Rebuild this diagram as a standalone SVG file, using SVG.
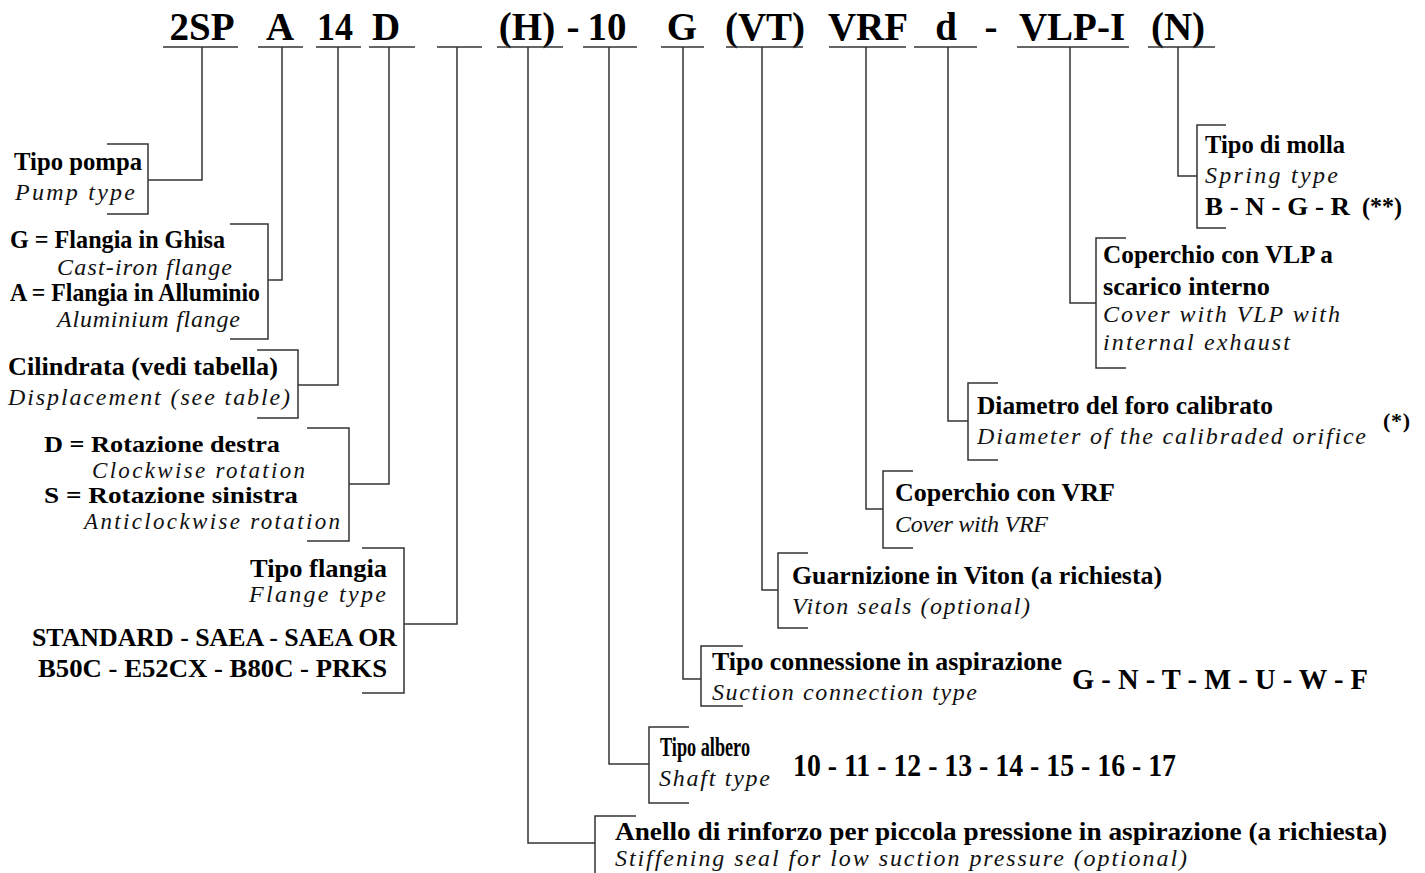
<svg xmlns="http://www.w3.org/2000/svg" width="1425" height="873" viewBox="0 0 1425 873">
<style>
.ln{fill:none;stroke:#333;stroke-width:1.5}
.h{font-family:"Liberation Serif","Times New Roman",serif;font-weight:bold;font-size:39px;text-anchor:middle;fill:#000}
.b{font-family:"Liberation Serif","Times New Roman",serif;font-weight:bold;font-size:26px;fill:#000}
.i{font-family:"Liberation Serif","Times New Roman",serif;font-style:italic;font-size:24px;fill:#111}
.sm{font-size:23px}
</style>
<rect width="1425" height="873" fill="#fff"/>
<g id="code">
<g id="c-2sp"><text class="h" x="202" y="40">2SP</text><path class="ln" d="M163,47H238"/></g>
<g id="c-a"><text class="h" x="280" y="40">A</text><path class="ln" d="M258,47H303"/></g>
<g id="c-14"><text class="h" x="335" y="40" textLength="36" lengthAdjust="spacingAndGlyphs">14</text><path class="ln" d="M316,47H361"/></g>
<g id="c-d"><text class="h" x="386" y="40">D</text><path class="ln" d="M369,47H415"/></g>
<g id="c-blank"><path class="ln" d="M437,47H482"/></g>
<g id="c-h"><text class="h" x="527" y="40">(H)</text><path class="ln" d="M497,47H563"/></g>
<g id="c-dash1"><text class="h" x="573" y="40">-</text></g>
<g id="c-10"><text class="h" x="607" y="40">10</text><path class="ln" d="M583,47H637"/></g>
<g id="c-g"><text class="h" x="682" y="40">G</text><path class="ln" d="M661,47H704"/></g>
<g id="c-vt"><text class="h" x="765" y="40">(VT)</text><path class="ln" d="M726,47H803"/></g>
<g id="c-vrf"><text class="h" x="868" y="40">VRF</text><path class="ln" d="M829,47H906"/></g>
<g id="c-dd"><text class="h" x="946" y="40">d</text><path class="ln" d="M914,47H977"/></g>
<g id="c-dash2"><text class="h" x="991" y="40">-</text></g>
<g id="c-vlp"><text class="h" x="1072" y="40">VLP-I</text><path class="ln" d="M1017,47H1129"/></g>
<g id="c-n"><text class="h" x="1178" y="40">(N)</text><path class="ln" d="M1148,47H1215"/></g>
</g>
<g id="connectors">
<path class="ln" d="M202,47V180H148"/>
<path class="ln" d="M282,47V280H268"/>
<path class="ln" d="M338,47V385H298"/>
<path class="ln" d="M389,47V484H349"/>
<path class="ln" d="M457,47V624H404"/>
<path class="ln" d="M528,47V843H595"/>
<path class="ln" d="M609,47V764H649"/>
<path class="ln" d="M683,47V679H701"/>
<path class="ln" d="M762,47V590H778"/>
<path class="ln" d="M866,47V509H883"/>
<path class="ln" d="M948,47V421H968"/>
<path class="ln" d="M1070,47V303H1096"/>
<path class="ln" d="M1178,47V176H1197"/>
</g>
<g id="n-pump">
<path class="ln" d="M107,144H148V214H107"/>
<text class="b" x="14" y="170" textLength="128" lengthAdjust="spacingAndGlyphs">Tipo pompa</text>
<text class="i" x="15" y="200" textLength="120">Pump type</text>
</g>
<g id="n-flange-mat">
<path class="ln" d="M230,224H268V339H230"/>
<text class="b" x="10" y="248" textLength="215" lengthAdjust="spacingAndGlyphs">G = Flangia in Ghisa</text>
<text class="i" x="57" y="275" textLength="175">Cast-iron flange</text>
<text class="b" x="10" y="301" textLength="250" lengthAdjust="spacingAndGlyphs">A = Flangia in Alluminio</text>
<text class="i" x="57" y="327" textLength="183">Aluminium flange</text>
</g>
<g id="n-displacement">
<path class="ln" d="M257,350H298V418H257"/>
<text class="b" x="8" y="375" textLength="270" lengthAdjust="spacingAndGlyphs">Cilindrata (vedi tabella)</text>
<text class="i" x="8" y="405" textLength="282">Displacement (see table)</text>
</g>
<g id="n-rotation">
<path class="ln" d="M307,428H349V541H307"/>
<text class="b sm" x="44" y="452" textLength="236" lengthAdjust="spacingAndGlyphs">D = Rotazione destra</text>
<text class="i sm" x="92" y="478" textLength="213">Clockwise rotation</text>
<text class="b sm" x="44" y="503" textLength="254" lengthAdjust="spacingAndGlyphs">S = Rotazione sinistra</text>
<text class="i sm" x="84" y="529" textLength="256">Anticlockwise rotation</text>
</g>
<g id="n-flange-type">
<path class="ln" d="M362,548H404V693H362"/>
<text class="b" x="250" y="577" textLength="137" lengthAdjust="spacingAndGlyphs">Tipo flangia</text>
<text class="i" x="249" y="602" textLength="137">Flange type</text>
<text class="b" x="32" y="646" textLength="365" lengthAdjust="spacingAndGlyphs">STANDARD - SAEA - SAEA OR</text>
<text class="b" x="38" y="677" textLength="349" lengthAdjust="spacingAndGlyphs">B50C - E52CX - B80C - PRKS</text>
</g>
<g id="n-spring">
<path class="ln" d="M1226,125H1197V228H1226"/>
<text class="b" x="1205" y="153" textLength="140" lengthAdjust="spacingAndGlyphs">Tipo di molla</text>
<text class="i" x="1205" y="183" textLength="133">Spring type</text>
<text class="b" x="1205" y="215" textLength="145" lengthAdjust="spacingAndGlyphs">B - N - G - R</text>
<text class="b" x="1362" y="215" textLength="40" lengthAdjust="spacingAndGlyphs">(**)</text>
</g>
<g id="n-vlp">
<path class="ln" d="M1126,238H1096V368H1126"/>
<text class="b" x="1103" y="263" textLength="230" lengthAdjust="spacingAndGlyphs">Coperchio con VLP a</text>
<text class="b" x="1103" y="295" textLength="167" lengthAdjust="spacingAndGlyphs">scarico interno</text>
<text class="i" x="1103" y="322" textLength="237">Cover with VLP with</text>
<text class="i" x="1103" y="350" textLength="187">internal exhaust</text>
</g>
<g id="n-orifice">
<path class="ln" d="M998,383H968V460H998"/>
<text class="b" x="977" y="414" textLength="296" lengthAdjust="spacingAndGlyphs">Diametro del foro calibrato</text>
<text class="i" x="977" y="444" textLength="389">Diameter of the calibraded orifice</text>
<text class="b" x="1383" y="428" style="font-size:22px" textLength="27">(*)</text>
</g>
<g id="n-vrf">
<path class="ln" d="M913,471H883V548H913"/>
<text class="b" x="895" y="501" textLength="220" lengthAdjust="spacingAndGlyphs">Coperchio con VRF</text>
<text class="i" x="895" y="532" textLength="153">Cover with VRF</text>
</g>
<g id="n-viton">
<path class="ln" d="M808,553H778V628H808"/>
<text class="b" x="792" y="584" textLength="370" lengthAdjust="spacingAndGlyphs">Guarnizione in Viton (a richiesta)</text>
<text class="i" x="792" y="614" textLength="238">Viton seals (optional)</text>
</g>
<g id="n-suction">
<path class="ln" d="M743,646H701V706H743"/>
<text class="b" x="712" y="670" textLength="350" lengthAdjust="spacingAndGlyphs">Tipo connessione in aspirazione</text>
<text class="i" x="712" y="700" textLength="265">Suction connection type</text>
<text class="b" x="1072" y="689" style="font-size:30px" textLength="296" lengthAdjust="spacingAndGlyphs">G - N - T - M - U - W - F</text>
</g>
<g id="n-shaft">
<path class="ln" d="M689,727H649V803H689"/>
<text class="b" x="660" y="756" style="font-size:27px" textLength="90" lengthAdjust="spacingAndGlyphs">Tipo albero</text>
<text class="i" x="659" y="786" textLength="111">Shaft type</text>
<text class="b" x="793" y="776" style="font-size:31px" textLength="383" lengthAdjust="spacingAndGlyphs">10 - 11 - 12 - 13 - 14 - 15 - 16 - 17</text>
</g>
<g id="n-stiffening">
<path class="ln" d="M636,816H595V873"/>
<text class="b" x="615" y="840" textLength="772" lengthAdjust="spacingAndGlyphs">Anello di rinforzo per piccola pressione in aspirazione (a richiesta)</text>
<text class="i" x="615" y="866" textLength="572">Stiffening seal for low suction pressure (optional)</text>
</g>
</svg>
